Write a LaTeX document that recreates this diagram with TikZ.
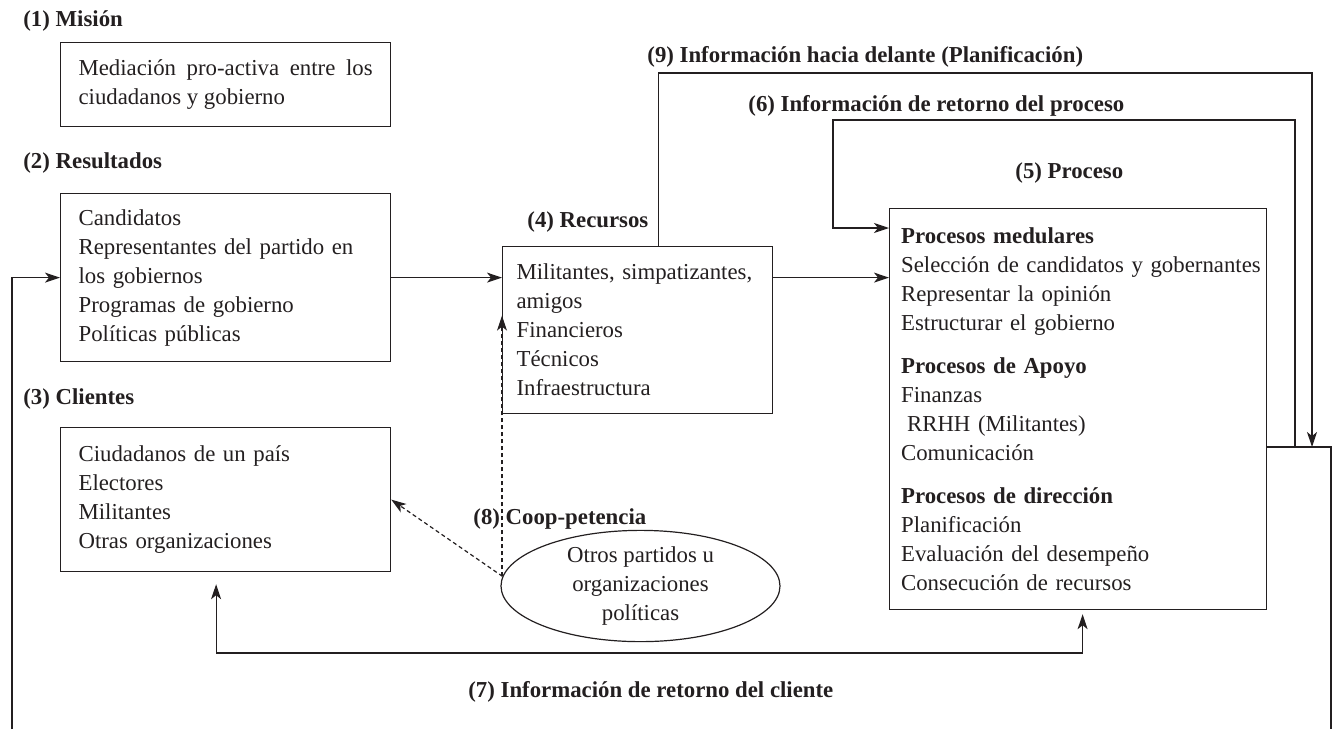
\documentclass[tikz,border=0pt]{standalone}
\usepackage{fontspec}
\setmainfont{Liberation Serif}
\usetikzlibrary{arrows.meta,shapes.geometric,positioning}
\definecolor{tinta}{RGB}{35,31,32}

\tikzset{
  caja/.style={draw=tinta, line width=0.6pt, anchor=north west, align=left, text=tinta,
    inner ysep=0pt, font=\fontsize{11.4}{14.5}\selectfont},
  titulo/.style={anchor=base west, inner sep=0pt, text=tinta,
    font=\bfseries\fontsize{11.4}{14.5}\selectfont},
  linea/.style={draw=tinta, line width=0.6pt},
  punta/.tip={Stealth[length=7.5pt,width=5pt,inset=2pt]},
  flecha/.style={linea, -punta},
  doble/.style={linea, punta-punta},
  punteada/.style={flecha, dash pattern=on 2pt off 1.5pt}
}

\begin{document}
\begin{tikzpicture}[x=0.5pt, y=-0.5pt]
\useasboundingbox (0,0) rectangle (1332,729);

% titulos
\node[titulo] (t1) at (23,26) {(1) Misión};
\node[titulo] (t2) at (23,168) {(2) Resultados};
\node[titulo] (t3) at (23,404) {(3) Clientes};
\node[titulo] (t4) at (527,227) {(4) Recursos};
\node[titulo] (t5) at (1015,178) {(5) Proceso};
\node[titulo] (t6) at (748,111) {(6) Información de retorno del proceso};
\node[titulo] (t7) at (468,697) {(7) Información de retorno del cliente};
\node[titulo] (t8) at (473,524) {(8) Coop-petencia};
\node[titulo] (t9) at (647,62) {(9) Información hacia delante (Planificación)};

% cajas
\node[caja, align=justify, text width=147pt, inner xsep=9pt, minimum height=42pt] (mision) at (60,42)
  {Mediación pro-activa entre los ciudadanos y gobierno};
\node[caja, text width=147pt, inner xsep=9pt, minimum height=84pt] (resultados) at (60,193)
  {Candidatos\\Representantes del partido en\\los gobiernos\\Programas de gobierno\\Políticas públicas};
\node[caja, text width=147pt, inner xsep=9pt, minimum height=72pt] (clientes) at (60,427)
  {Ciudadanos de un país\\Electores\\Militantes\\Otras organizaciones};
\node[caja, text width=121pt, inner xsep=7pt, minimum height=83.5pt] (recursos) at (502,246)
  {Militantes, simpatizantes,\\amigos\\Financieros\\Técnicos\\Infraestructura};
\node[caja, text width=177pt, inner xsep=5.75pt, minimum height=200.5pt] (proceso) at (889,208)
  {\textbf{Procesos medulares}\\
   \mbox{Selección de candidatos y gobernantes}\\
   Representar la opinión\\
   Estructurar el gobierno\\[7pt]
   \textbf{Procesos de Apoyo}\\
   Finanzas\\
   \hspace*{3pt}RRHH (Militantes)\\
   Comunicación\\[7pt]
   \textbf{Procesos de dirección}\\
   Planificación\\
   Evaluación del desempeño\\
   Consecución de recursos};
\node[ellipse, draw=tinta, line width=0.6pt, minimum width=139.5pt, minimum height=51pt,
  inner sep=0pt, align=center, text=tinta, font=\fontsize{11.4}{14.5}\selectfont] (otros) at (640.5,586)
  {Otros partidos u\\organizaciones\\políticas};

% puntos de los lazos
\coordinate (esq) at (1331,447);
\coordinate (abajoder) at (1331,729);
\coordinate (abajoizq) at (12,729);
\coordinate (c9) at (1312,73);
\coordinate (c6) at (1295,120);
\coordinate (c7) at (0,653);
\coordinate (s9) at ([xshift=10.5pt]recursos.north);
\coordinate (e6) at ([yshift=-10pt]proceso.north west);
\coordinate (a7) at ([xshift=-4.75pt,yshift=-6pt]clientes.south);
\coordinate (b7) at ([xshift=2.25pt,yshift=-2pt]proceso.south);
\coordinate (d8) at ([yshift=7.25pt]recursos.west);

\draw[flecha] (resultados.east) -- (recursos.west |- resultados.east);
\draw[flecha] (recursos.east |- resultados.east) -- (proceso.west |- resultados.east);
\draw[linea] (proceso.east |- esq) -- (esq) -- (abajoder);
\draw[flecha] (abajoizq) |- (resultados.west);
\draw[flecha] (s9) |- (c9) -- (c9 |- esq);
\draw[flecha] (c6 |- esq) -- (c6) -| ([xshift=-28pt]e6) -- (e6);
\draw[doble] (a7) -- (a7 |- c7) -- (b7 |- c7) -- (b7);
\draw[punteada] (recursos.west |- otros.176) -- (d8);
\draw[punteada] (otros.176) -- (clientes.east);
\end{tikzpicture}
\end{document}
